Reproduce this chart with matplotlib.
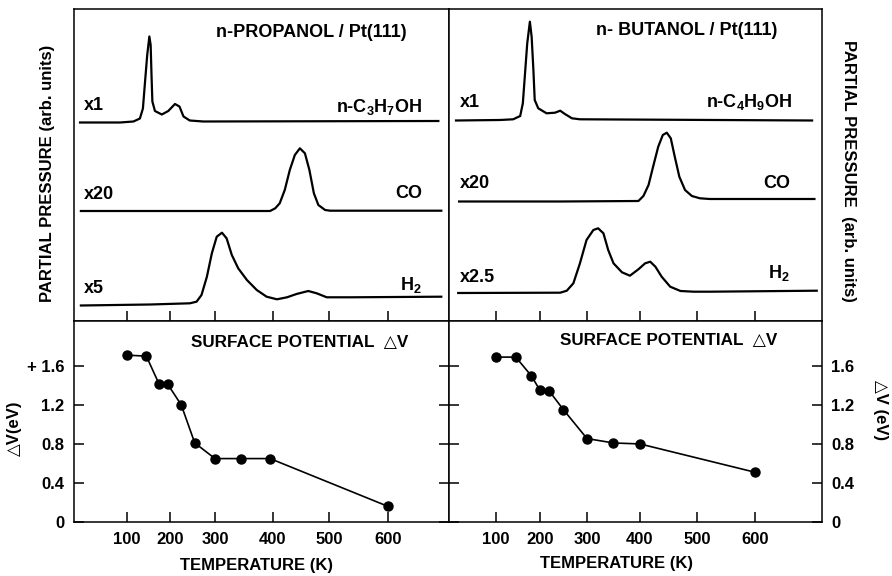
import numpy as np
import matplotlib.pyplot as plt

# ---- temperature axis (the original x axis is not linear in T) ----
# tick temperatures and where they sit, as px from the left spine of each column
scale_T_left = [-23, 100, 200, 300, 400, 500, 600, 703]
scale_u_left = [0, 53, 96, 141, 199, 255, 314, 375]
scale_T_right = [-7, 100, 200, 300, 400, 500, 600, 715]
scale_u_right = [0, 47, 91, 138, 191, 248, 306, 373]
temp_ticks = [100, 200, 300, 400, 500, 600]

# ---- TPD traces (temperature K, partial pressure arb. units) ----
T_c3h7oh = [-9, 84, 115, 130, 137, 142, 147, 152, 155, 157, 159, 165, 181, 196,
            211, 221, 230, 244, 274, 685]
p_c3h7oh = [0, 0, 0.1, 0.4, 1.4, 4.1, 6.75, 8.6, 7.75, 4.75, 2.1, 1.15, 0.8, 1.15,
            1.85, 1.6, 0.6, 0.2, 0.1, 0.15]
T_co_pro = [-7, 395, 404, 412, 421, 430, 439, 448, 457, 465, 473, 481, 493, 502, 690]
p_co_pro = [0, 0, 0.27, 0.77, 2.1, 4.1, 5.6, 6.27, 5.77, 4.1, 1.77, 0.6, 0.1, 0.03, 0.03]
T_h2_pro = [-7, 154, 244, 259, 270, 282, 293, 303, 312, 320, 329, 340, 355, 372,
            389, 407, 425, 442, 463, 478, 496, 513, 536, 690]
p_h2_pro = [0, 0.1, 0.22, 0.38, 1.05, 2.88, 5.22, 6.88, 7.28, 6.72, 5.05, 3.72, 2.55, 1.55,
            0.88, 0.62, 0.82, 1.15, 1.45, 1.22, 0.82, 0.82, 0.82, 0.88]

T_c4h9oh = [9, 109, 139, 155, 161, 166, 171, 177, 181, 185, 188, 196, 214, 232,
            243, 253, 268, 285, 698]
p_c4h9oh = [0, 0.05, 0.12, 0.45, 1.72, 4.72, 7.72, 9.88, 8.38, 5.05, 2.05, 1.22, 0.72, 0.78,
            0.98, 0.65, 0.22, 0.12, 0]
T_co_but = [16, 243, 397, 406, 415, 423, 432, 440, 447, 454, 461, 469, 479, 491, 505, 522, 702]
p_co_but = [0, 0, 0.05, 0.55, 1.65, 3.48, 5.48, 6.65, 6.88, 6.32, 4.48, 2.48, 1.15, 0.55,
            0.32, 0.25, 0.25]
T_h2_but = [14, 243, 257, 271, 285, 299, 312, 321, 331, 340, 350, 366, 381, 397, 409,
            418, 427, 438, 453, 471, 494, 522, 706]
p_h2_but = [0, 0.03, 0.23, 0.97, 2.97, 5.3, 6.3, 6.47, 5.97, 4.3, 2.97, 2.07, 1.73, 2.37,
            2.97, 3.13, 2.63, 1.63, 0.63, 0.2, 0.13, 0.13, 0.23]

# ---- surface potential ----
T_dv_pro = [100, 145, 175, 195, 225, 255, 300, 345, 395, 600]
dv_pro = [1.71, 1.70, 1.41, 1.41, 1.20, 0.81, 0.65, 0.65, 0.65, 0.16]
T_dv_but = [100, 145, 180, 200, 220, 250, 300, 350, 400, 600]
dv_but = [1.69, 1.69, 1.50, 1.35, 1.34, 1.15, 0.855, 0.81, 0.80, 0.51]
dv_ticks = [0, 0.4, 0.8, 1.2, 1.6]
dv_labels_left = ['0', '0.4', '0.8', '1.2', '+ 1.6']
dv_labels_right = ['0', '0.4', '0.8', '1.2', '1.6']

plt.rcParams['font.family'] = ['Liberation Sans', 'DejaVu Sans']
plt.rcParams['font.weight'] = 'bold'
plt.rcParams['axes.labelweight'] = 'bold'
plt.rcParams['mathtext.fontset'] = 'custom'
plt.rcParams['mathtext.rm'] = 'Liberation Sans:bold'
plt.rcParams['mathtext.default'] = 'regular'
plt.rcParams['axes.linewidth'] = 1.1

FS = 13     # text inside the panels
LFS = 12    # axis labels
TFS = 12    # tick labels


def temp_scale(ax, knots_T, knots_u):
    fwd = lambda t: np.interp(t, knots_T, knots_u)
    inv = lambda u: np.interp(u, knots_u, knots_T)
    ax.set_xscale('function', functions=(fwd, inv))
    ax.set_xlim(knots_T[0], knots_T[-1])
    ax.set_xticks(temp_ticks)


fig = plt.figure(figsize=(8.92, 5.76), dpi=100)
ax_tl = fig.add_axes([0.08296, 0.44271, 0.4204, 0.54167])
ax_tr = fig.add_axes([0.50336, 0.44271, 0.41816, 0.54167])
ax_bl = fig.add_axes([0.08296, 0.09375, 0.4204, 0.34896])
ax_br = fig.add_axes([0.50336, 0.09375, 0.41816, 0.34896])

for ax in (ax_tl, ax_bl):
    temp_scale(ax, scale_T_left, scale_u_left)
for ax in (ax_tr, ax_br):
    temp_scale(ax, scale_T_right, scale_u_right)

# ---- top panels: TPD spectra ----
traces_pro = [(T_c3h7oh, p_c3h7oh, 19.85), (T_co_pro, p_co_pro, 11.0), (T_h2_pro, p_h2_pro, 1.55)]
traces_but = [(T_c4h9oh, p_c4h9oh, 20.05), (T_co_but, p_co_but, 11.95), (T_h2_but, p_h2_but, 2.8)]

for ax, traces in ((ax_tl, traces_pro), (ax_tr, traces_but)):
    for T, p, off in traces:
        ax.plot(T, np.array(p) + off, color='black', lw=1.6, solid_joinstyle='round')
    ax.set_ylim(0, 31.2)
    ax.set_yticks([])
    ax.tick_params(axis='x', direction='in', length=7, width=1.1, labelbottom=False)

tx = dict(transform=ax_tl.transAxes, fontsize=FS)
ax_tl.text(0.632, 0.911, 'n-PROPANOL / Pt(111)', ha='center', va='baseline', **tx)
ax_tl.text(0.027, 0.676, 'x1', ha='left', va='baseline', **tx)
ax_tl.text(0.027, 0.391, 'x20', ha='left', va='baseline', **tx)
ax_tl.text(0.027, 0.090, 'x5', ha='left', va='baseline', **tx)
ax_tl.text(0.928, 0.670, r'n-C$_3$H$_7$OH', ha='right', va='baseline', **tx)
ax_tl.text(0.928, 0.394, 'CO', ha='right', va='baseline', **tx)
ax_tl.text(0.928, 0.099, r'H$_2$', ha='right', va='baseline', **tx)
ax_tl.set_ylabel('PARTIAL PRESSURE (arb. units)', fontsize=LFS)
ax_tl.yaxis.set_label_coords(-0.051, 0.474)

tx = dict(transform=ax_tr.transAxes, fontsize=FS)
ax_tr.text(0.638, 0.917, 'n- BUTANOL / Pt(111)', ha='center', va='baseline', **tx)
ax_tr.text(0.0295, 0.685, 'x1', ha='left', va='baseline', **tx)
ax_tr.text(0.0295, 0.425, 'x20', ha='left', va='baseline', **tx)
ax_tr.text(0.0295, 0.126, 'x2.5', ha='left', va='baseline', **tx)
ax_tr.text(0.92, 0.687, r'n-C$_4$H$_9$OH', ha='right', va='baseline', **tx)
ax_tr.text(0.914, 0.425, 'CO', ha='right', va='baseline', **tx)
ax_tr.text(0.914, 0.137, r'H$_2$', ha='right', va='baseline', **tx)
ax_tr.yaxis.set_label_position('right')
ax_tr.set_ylabel('PARTIAL PRESSURE  (arb. units)', fontsize=LFS, rotation=270, va='bottom')
ax_tr.yaxis.set_label_coords(1.05, 0.481)

# ---- bottom panels: surface potential ----
ax_bl.plot(T_dv_pro, dv_pro, color='black', lw=1.2, marker='o', ms=6.5)
ax_br.plot(T_dv_but, dv_but, color='black', lw=1.2, marker='o', ms=6.5)

for ax, labels in ((ax_bl, dv_labels_left), (ax_br, dv_labels_right)):
    ax.set_ylim(0, 2.06)
    ax.set_yticks(dv_ticks)
    ax.set_yticklabels(labels)
    ax.tick_params(axis='x', direction='in', length=7.5, width=1.1, pad=7.5, labelsize=TFS)
    ax.tick_params(axis='y', direction='in', length=7, width=1.1, left=True, right=True,
                   labelsize=TFS)
    ax.set_xlabel('TEMPERATURE (K)', fontsize=LFS)

ax_bl.tick_params(axis='y', pad=7)
ax_br.tick_params(axis='y', labelleft=False, labelright=True, pad=6.5)

ax_bl.text(0.601, 0.872, 'SURFACE POTENTIAL  \u25b3V', transform=ax_bl.transAxes,
           ha='center', va='baseline', fontsize=12.3)
ax_br.text(0.590, 0.881, 'SURFACE POTENTIAL  \u25b3V', transform=ax_br.transAxes,
           ha='center', va='baseline', fontsize=12.3)

ax_bl.set_ylabel('\u25b3V(eV)', fontsize=12)
ax_bl.yaxis.set_label_coords(-0.139, 0.468)
ax_br.yaxis.set_label_position('right')
ax_br.set_ylabel('\u25b3V (eV)', fontsize=12, rotation=270, va='bottom')
ax_br.yaxis.set_label_coords(1.137, 0.557)

ax_bl.xaxis.set_label_coords(0.488, -0.179)
ax_br.xaxis.set_label_coords(0.45, -0.17)

plt.savefig('out.png', dpi=100)
